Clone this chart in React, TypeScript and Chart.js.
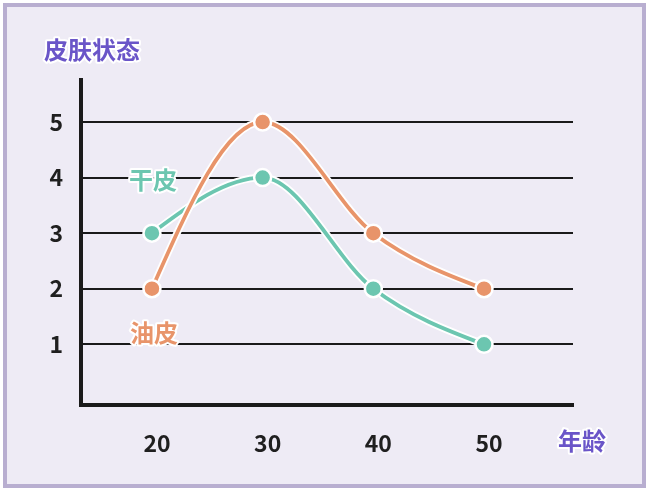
import React, { useEffect, useRef } from "react";
import { Chart, registerables } from "chart.js";

Chart.register(...registerables);

const ages = [20, 30, 40, 50];
const drySkin = [3, 4, 2, 1];
const oilySkin = [2, 5, 3, 2];
const yTicks = [1, 2, 3, 4, 5];

const yTitle = "皮肤状态";
const xTitle = "年龄";
const dryLabel = "干皮";
const oilyLabel = "油皮";

const TEAL = "#6cc6b0";
const ORANGE = "#e8946a";
const PURPLE = "#6a55c8";
const BG = "#eeebf5";
const FRAME = "#b8aed0";
const FONT = "'Noto Sans CJK SC', 'Noto Sans', sans-serif";

// Smooth curve: monotone tangents inside, free (zero-curvature) ends.
const smoothCurve = {
  id: "smoothCurve",
  beforeDatasetDraw(chart: any, args: any) {
    const meta = args.meta;
    if (meta.type !== "line") return;
    const line = meta.dataset;
    const pts = meta.data;
    const n = pts.length;
    if (n < 3) return;
    if (line && line.updateControlPoints) line.updateControlPoints(chart.chartArea, meta.indexAxis);
    const xs = pts.map((p: any) => p.x);
    const ys = pts.map((p: any) => p.y);
    const h: number[] = [];
    const dl: number[] = [];
    for (let i = 0; i < n - 1; i++) {
      h.push(xs[i + 1] - xs[i]);
      dl.push((ys[i + 1] - ys[i]) / (xs[i + 1] - xs[i]));
    }
    const t: number[] = new Array(n).fill(0);
    for (let i = 1; i < n - 1; i++) {
      if (dl[i - 1] === 0 || dl[i] === 0 || Math.sign(dl[i - 1]) !== Math.sign(dl[i])) t[i] = 0;
      else t[i] = (dl[i - 1] + dl[i]) / 2;
    }
    t[0] = (3 * dl[0] - t[1]) / 2;
    t[n - 1] = (3 * dl[n - 2] - t[n - 2]) / 2;
    for (let i = 0; i < n; i++) {
      const p = pts[i];
      const hp = i > 0 ? h[i - 1] : 0;
      const hn = i < n - 1 ? h[i] : 0;
      p.cp1x = xs[i] - hp / 3;
      p.cp1y = ys[i] - (t[i] * hp) / 3;
      p.cp2x = xs[i] + hn / 3;
      p.cp2y = ys[i] + (t[i] * hn) / 3;
    }
    line._path = undefined;
  },
};

const decor = {
  id: "decor",
  beforeDraw(chart: any) {
    const ctx = chart.ctx;
    ctx.save();
    ctx.fillStyle = "#ffffff";
    ctx.fillRect(0, 0, chart.width, chart.height);
    ctx.fillStyle = FRAME;
    ctx.fillRect(3, 3, 643, 485);
    ctx.fillStyle = BG;
    ctx.fillRect(7, 7, 635, 477);
    ctx.restore();
  },
  afterDraw(chart: any) {
    const ctx = chart.ctx;
    const put = (s: string, x: number, y: number, color: string) => {
      ctx.save();
      ctx.font = `bold 24px ${FONT}`;
      ctx.textAlign = "left";
      ctx.textBaseline = "middle";
      ctx.lineJoin = "round";
      ctx.strokeStyle = "#ffffff";
      ctx.lineWidth = 4;
      ctx.strokeText(s, x, y);
      ctx.fillStyle = color;
      ctx.fillText(s, x, y);
      ctx.restore();
    };
    put(yTitle, 44, 50, PURPLE);
    put(xTitle, 558, 441, PURPLE);
    put(dryLabel, 129, 180, TEAL);
    put(oilyLabel, 130, 333, ORANGE);
  },
};

function pointsOf(vals: number[]) {
  return ages.map((a, i) => ({ x: a, y: vals[i] }));
}

export default function App() {
  const ref = useRef<HTMLCanvasElement | null>(null);
  useEffect(() => {
    document.body.style.margin = "0";
    const canvas = ref.current;
    if (!canvas) return;
    const halo = (vals: number[], order: number) => ({
      data: pointsOf(vals),
      borderColor: "#ffffff",
      borderWidth: 7.5,
      pointRadius: 0,
      tension: 0.4,
      fill: false,
      order,
    });
    const main = (vals: number[], color: string, order: number, label: string) => ({
      label,
      data: pointsOf(vals),
      borderColor: color,
      backgroundColor: color,
      borderWidth: 3.8,
      pointRadius: 8.5,
      pointBorderWidth: 2.5,
      pointBorderColor: "#ffffff",
      pointBackgroundColor: color,
      tension: 0.4,
      fill: false,
      order,
    });
    const chart = new Chart(canvas, {
      type: "line",
      data: {
        datasets: [
          halo(drySkin, 4),
          main(drySkin, TEAL, 3, dryLabel),
          halo(oilySkin, 2),
          main(oilySkin, ORANGE, 1, oilyLabel),
        ] as any,
      },
      options: {
        animation: false,
        responsive: false,
        devicePixelRatio: 1,
        clip: false as any,
        layout: { padding: { top: 80, right: 77, left: 0, bottom: 0 } },
        plugins: { legend: { display: false }, tooltip: { enabled: false } },
        scales: {
          x: {
            type: "linear",
            min: 13.59,
            max: 58.04,
            afterBuildTicks: (s: any) => {
              s.ticks = ages.map((v) => ({ value: v }));
            },
            afterFit: (s: any) => {
              s.height = 87;
            },
            grid: { display: false, drawTicks: false },
            border: { display: true, color: "#1a1a1a", width: 4 },
            ticks: {
              color: "#1f1f1f",
              padding: 24,
              labelOffset: 5,
              font: { family: FONT, size: 23, weight: "bold" },
              callback: (v: any) => String(v),
            },
          },
          y: {
            type: "linear",
            min: -0.092,
            max: 5.756,
            afterBuildTicks: (s: any) => {
              s.ticks = yTicks.map((v) => ({ value: v }));
            },
            afterFit: (s: any) => {
              s.width = 81;
            },
            grid: { display: true, color: "#1a1a1a", lineWidth: 2, drawTicks: false },
            border: { display: true, color: "#1a1a1a", width: 4 },
            ticks: {
              color: "#1f1f1f",
              padding: 18,
              font: { family: FONT, size: 23, weight: "bold" },
              callback: (v: any) => String(v),
            },
          },
        },
      } as any,
      plugins: [decor, smoothCurve],
    });
    return () => chart.destroy();
  }, []);
  return (
    <div style={{ position: "fixed", left: 0, top: 0, width: 650, height: 492 }}>
      <canvas ref={ref} width={650} height={492} />
    </div>
  );
}
